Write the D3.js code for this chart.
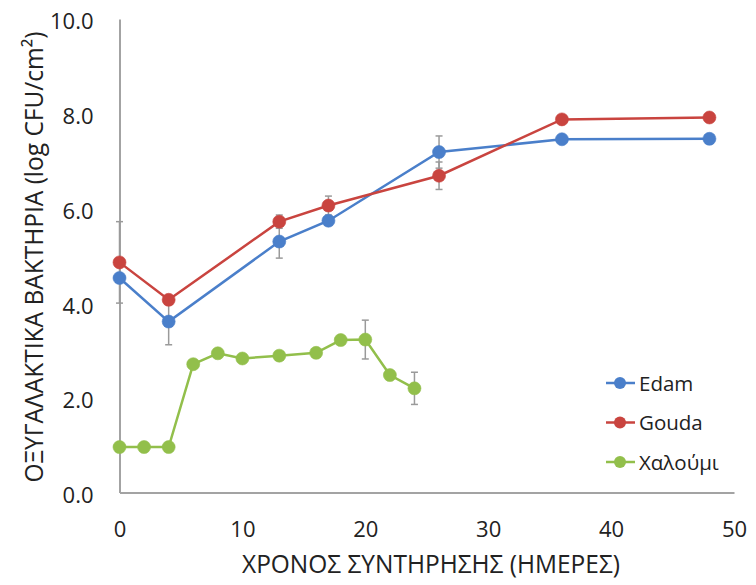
<!DOCTYPE html>
<html>
<head>
<meta charset="utf-8">
<script src="https://cdn.jsdelivr.net/npm/d3@7"></script>
<style>
  html, body { margin: 0; padding: 0; background: #fff; }
  svg { display: block; font-family: "Open Sans", "Noto Sans", sans-serif; }
</style>
</head>
<body>
<svg id="chart" width="756" height="585"></svg>
<script>
// Sampling days (storage time, days)
const daysCheese = [0, 4, 13, 17, 26, 36, 48];
const daysHaloumi = [0, 2, 4, 6, 8, 10, 13, 16, 18, 20, 22, 24];

// Lactic acid bacteria counts (log CFU/cm²)
const edam = [4.53, 3.61, 5.30, 5.74, 7.19, 7.46, 7.47];
const gouda = [4.86, 4.07, 5.72, 6.06, 6.69, 7.88, 7.92];
const haloumi = [0.96, 0.96, 0.96, 2.71, 2.94, 2.83, 2.89, 2.95, 3.22, 3.23, 2.48, 2.20];

// Standard deviations (0 = no error bar drawn)
const edamErr = [0, 0.49, 0.35, 0, 0.34, 0, 0];
const goudaErr = [0.86, 0, 0.14, 0.20, 0.29, 0, 0];
const haloumiErr = [0, 0, 0, 0, 0, 0, 0, 0, 0, 0.41, 0, 0.34];

const seriesNames = ["Edam", "Gouda", "Χαλούμι"];
const seriesColors = ["#4a7fca", "#c9443f", "#92bf4b"];

const xTicks = [0, 10, 20, 30, 40, 50];
const yTicks = [0, 2, 4, 6, 8, 10];

const xTitle = "ΧΡΟΝΟΣ ΣΥΝΤΗΡΗΣΗΣ (ΗΜΕΡΕΣ)";
const yTitle = "ΟΞΥΓΑΛΑΚΤΙΚΑ ΒΑΚΤΗΡΙΑ (log CFU/cm²)";

const series = [
  { name: seriesNames[0], color: seriesColors[0], days: daysCheese, values: edam, err: edamErr },
  { name: seriesNames[1], color: seriesColors[1], days: daysCheese, values: gouda, err: goudaErr },
  { name: seriesNames[2], color: seriesColors[2], days: daysHaloumi, values: haloumi, err: haloumiErr }
];

const svg = d3.select("#chart");
const x = d3.scaleLinear().domain([0, 50]).range([119.5, 734]);
const y = d3.scaleLinear().domain([0, 10]).range([492.5, 19]);

const axisColor = "#a3a3a3";

// Y axis
const gy = svg.append("g")
  .attr("transform", `translate(${x(0)},0)`)
  .call(d3.axisLeft(y).tickValues(yTicks).tickFormat(d3.format(".1f"))
    .tickSize(0).tickSizeOuter(0).tickPadding(26));
gy.select(".domain").attr("stroke", axisColor).attr("stroke-width", 2);
gy.selectAll("text").attr("font-size", 22).attr("fill", "#222")
  .attr("font-family", "'Open Sans', sans-serif").attr("dy", "0.45em");

// X axis
const gx = svg.append("g")
  .attr("transform", `translate(0,${y(0)})`)
  .call(d3.axisBottom(x).tickValues(xTicks).tickFormat(d3.format("d"))
    .tickSize(0).tickSizeOuter(0).tickPadding(29));
gx.select(".domain").attr("stroke", axisColor).attr("stroke-width", 2);
gx.selectAll("text").attr("font-size", 22).attr("fill", "#222")
  .attr("font-family", "'Open Sans', sans-serif");

// Axis titles
svg.append("text")
  .attr("x", 431).attr("y", 573)
  .attr("text-anchor", "middle")
  .attr("font-size", 25).attr("fill", "#222")
  .attr("textLength", 378).attr("lengthAdjust", "spacingAndGlyphs")
  .text(xTitle);

svg.append("text")
  .attr("transform", "translate(43,257) rotate(-90)")
  .attr("text-anchor", "middle")
  .attr("font-size", 25).attr("fill", "#222")
  .attr("textLength", 451).attr("lengthAdjust", "spacingAndGlyphs")
  .text(yTitle);

const line = d3.line().x(d => x(d.day)).y(d => y(d.value));

series.forEach(s => {
  s.points = s.days.map((day, i) => ({ day, value: s.values[i], err: s.err[i] }));
});

// Error bars
const errColor = "#9a9a9a";
series.forEach(s => {
  const g = svg.append("g");
  s.points.filter(p => p.err > 0).forEach(p => {
    const cx = x(p.day), y1 = y(p.value + p.err), y2 = y(p.value - p.err);
    g.append("line").attr("x1", cx).attr("x2", cx).attr("y1", y1).attr("y2", y2)
      .attr("stroke", errColor).attr("stroke-width", 1.5);
    [y1, y2].forEach(yy => g.append("line")
      .attr("x1", cx - 3.5).attr("x2", cx + 3.5).attr("y1", yy).attr("y2", yy)
      .attr("stroke", errColor).attr("stroke-width", 1.5));
  });
});

// Lines and markers
series.forEach(s => {
  svg.append("path").datum(s.points)
    .attr("d", line).attr("fill", "none")
    .attr("stroke", s.color).attr("stroke-width", 2.5);
  svg.append("g").selectAll("circle").data(s.points).join("circle")
    .attr("cx", d => x(d.day)).attr("cy", d => y(d.value)).attr("r", 6.5)
    .attr("fill", s.color).attr("stroke", s.color).attr("stroke-width", 1)
    .attr("stroke-opacity", 0.6);
});

// Legend
const legend = svg.append("g");
series.forEach((s, i) => {
  const ly = 383 + i * 39.5;
  legend.append("line").attr("x1", 606).attr("x2", 635).attr("y1", ly).attr("y2", ly)
    .attr("stroke", s.color).attr("stroke-width", 2.5);
  legend.append("circle").attr("cx", 620).attr("cy", ly).attr("r", 6)
    .attr("fill", s.color);
  legend.append("text").attr("x", 639).attr("y", ly + 7.5)
    .attr("font-size", 20.5).attr("fill", "#222").text(s.name);
});
</script>
</body>
</html>
